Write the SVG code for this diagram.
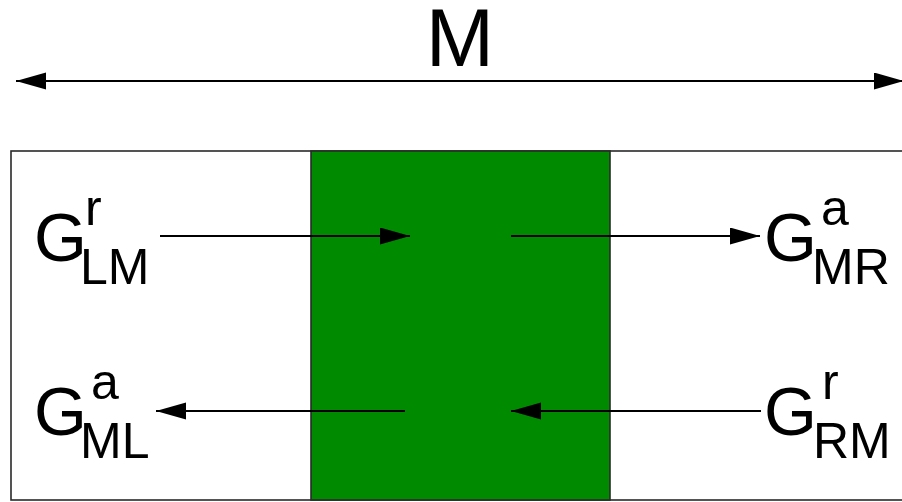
<svg xmlns="http://www.w3.org/2000/svg" width="902" height="502" viewBox="0 0 902 502">
  <style>
    .frame { fill: #ffffff; stroke: #2a2a2a; stroke-width: 1.6; }
    .core { fill: #008a00; stroke: #2a2a2a; stroke-width: 1.6; }
    .wire { fill: none; stroke: #000000; stroke-width: 2; }
    .big { font-family: "Liberation Sans", Arial, sans-serif; font-size: 68px; fill: #000000; }
    .idx { font-family: "Liberation Sans", Arial, sans-serif; font-size: 50px; fill: #000000; }
    .title { font-family: "Liberation Sans", Arial, sans-serif; font-size: 82px; fill: #000000; }
  </style>
  <defs>
    <marker id="head" markerUnits="userSpaceOnUse" markerWidth="31" markerHeight="18" refX="30" refY="8.5" orient="auto-start-reverse" viewBox="0 0 31 18">
      <path d="M0,0 L30,8.5 L0,17 z" fill="#000000"/>
    </marker>
  </defs>
  <rect width="902" height="502" fill="#ffffff"/>

  <!-- span of the whole region -->
  <g id="span">
    <line class="wire" x1="16" y1="81" x2="904" y2="81" marker-start="url(#head)" marker-end="url(#head)"/>
    <text class="title" x="460" y="66" text-anchor="middle">M</text>
  </g>

  <!-- outer region and the central block -->
  <g id="region">
    <rect class="frame" x="11" y="151" width="900" height="349"/>
  </g>
  <g id="block">
    <rect class="core" x="311" y="151" width="299" height="349"/>
  </g>

  <!-- labels -->
  <g id="G-LM-r">
    <text class="big" x="34" y="261">G</text>
    <text class="idx" x="85" y="225">r</text>
    <text class="idx" x="80" y="284">LM</text>
  </g>
  <g id="G-MR-a">
    <text class="big" x="764" y="261">G</text>
    <text class="idx" x="821" y="225">a</text>
    <text class="idx" x="812" y="284">MR</text>
  </g>
  <g id="G-ML-a">
    <text class="big" x="34" y="435">G</text>
    <text class="idx" x="91" y="399">a</text>
    <text class="idx" x="80" y="458">ML</text>
  </g>
  <g id="G-RM-r">
    <text class="big" x="764" y="435">G</text>
    <text class="idx" x="822" y="399">r</text>
    <text class="idx" x="813" y="458">RM</text>
  </g>

  <!-- flows between the outer parts and the block -->
  <g id="connectors">
    <line class="wire" x1="160" y1="236" x2="410" y2="236" marker-end="url(#head)"/>
    <line class="wire" x1="511" y1="236" x2="760" y2="236" marker-end="url(#head)"/>
    <line class="wire" x1="405" y1="411" x2="156" y2="411" marker-end="url(#head)"/>
    <line class="wire" x1="761" y1="411" x2="511" y2="411" marker-end="url(#head)"/>
  </g>
</svg>
